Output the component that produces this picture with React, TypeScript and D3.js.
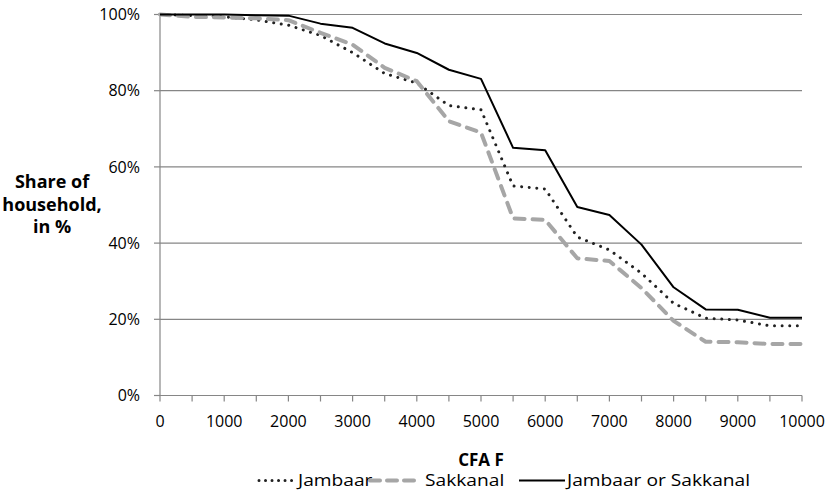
import React, { useEffect, useRef } from "react";
import * as d3 from "d3";

const xValues = [0, 500, 1000, 1500, 2000, 2500, 3000, 3500, 4000, 4500, 5000, 5500, 6000, 6500, 7000, 7500, 8000, 8500, 9000, 9500, 10000];
const jambaar = [100, 99.7, 99.4, 98.6, 97.2, 94.5, 90.0, 84.5, 82.0, 76.1, 75.0, 55.0, 54.2, 41.6, 38.2, 32.1, 24.2, 20.3, 19.8, 18.3, 18.3];
const sakkanal = [100, 99.4, 99.2, 99.0, 98.5, 95.2, 92.1, 86.0, 82.5, 72.0, 69.0, 46.5, 46.1, 36.0, 35.3, 28.2, 19.6, 14.1, 14.0, 13.5, 13.5];
const either = [100, 100, 100, 99.8, 99.7, 97.6, 96.5, 92.4, 89.9, 85.5, 83.1, 65.0, 64.4, 49.5, 47.4, 39.6, 28.4, 22.6, 22.5, 20.4, 20.4];
const xTicks = [0, 1000, 2000, 3000, 4000, 5000, 6000, 7000, 8000, 9000, 10000];
const xMinorTicks = [0, 500, 1000, 1500, 2000, 2500, 3000, 3500, 4000, 4500, 5000, 5500, 6000, 6500, 7000, 7500, 8000, 8500, 9000, 9500, 10000];
const yTicks = [0, 20, 40, 60, 80, 100];
const seriesNames = ["Jambaar", "Sakkanal", "Jambaar or Sakkanal"];

const W = 831;
const H = 492;
const FONT = "'Open Sans', 'Noto Sans', sans-serif";

export default function App() {
  const ref = useRef<SVGSVGElement | null>(null);

  useEffect(() => {
    const svg = d3.select(ref.current);
    svg.selectAll("*").remove();

    const x = d3.scaleLinear().domain([0, 10000]).range([160, 802]);
    const y = d3.scaleLinear().domain([0, 100]).range([395.5, 14.5]);
    const axisColor = "#868686";

    // gridlines
    svg.append("g").selectAll("line").data(yTicks.filter(v => v > 0)).join("line")
      .attr("x1", x(0)).attr("x2", x(10000))
      .attr("y1", d => y(d)).attr("y2", d => y(d))
      .attr("stroke", axisColor).attr("stroke-width", 1.2);

    // y axis
    svg.append("line").attr("x1", x(0)).attr("x2", x(0)).attr("y1", y(100)).attr("y2", y(0))
      .attr("stroke", axisColor).attr("stroke-width", 1.2);
    svg.append("g").selectAll("line").data(yTicks).join("line")
      .attr("x1", x(0) - 6).attr("x2", x(0))
      .attr("y1", d => y(d)).attr("y2", d => y(d))
      .attr("stroke", axisColor).attr("stroke-width", 1.2);
    svg.append("g").selectAll("text").data(yTicks).join("text")
      .attr("x", 140).attr("y", d => y(d)).attr("dy", "0.36em")
      .attr("text-anchor", "end").attr("font-family", FONT).attr("font-size", 16).attr("fill", "#000")
      .text(d => `${d}%`);

    // x axis
    svg.append("line").attr("x1", x(0)).attr("x2", x(10000)).attr("y1", y(0)).attr("y2", y(0))
      .attr("stroke", axisColor).attr("stroke-width", 1.2);
    svg.append("g").selectAll("line").data(xMinorTicks).join("line")
      .attr("x1", d => x(d)).attr("x2", d => x(d))
      .attr("y1", y(0)).attr("y2", y(0) + 6)
      .attr("stroke", axisColor).attr("stroke-width", 1.2);
    svg.append("g").selectAll("text").data(xTicks).join("text")
      .attr("x", d => x(d)).attr("y", 427)
      .attr("text-anchor", "middle").attr("font-family", FONT).attr("font-size", 16).attr("fill", "#000")
      .text(d => `${d}`);

    // titles
    svg.append("text").attr("x", 481).attr("y", 466).attr("text-anchor", "middle")
      .attr("font-family", FONT).attr("font-size", 17).attr("font-weight", "bold").text("CFA F");
    const yl = svg.append("text").attr("text-anchor", "middle")
      .attr("font-family", FONT).attr("font-size", 18).attr("font-weight", "bold");
    ["Share of", "household,", "in %"].forEach((t, i) => {
      yl.append("tspan").attr("x", 52).attr("y", 188 + i * 22.5).text(t);
    });

    const line = d3.line<number>().x((_, i) => x(xValues[i])).y(d => y(d));

    const styles = [
      { data: jambaar, stroke: "#222", width: 3, dash: "0.01 7.6", cap: "round" },
      { data: sakkanal, stroke: "#a6a6a6", width: 4, dash: "10 8", cap: "round" },
      { data: either, stroke: "#000", width: 2, dash: null, cap: "butt" },
    ];

    styles.forEach(s => {
      const p = svg.append("path").datum(s.data).attr("d", line)
        .attr("fill", "none").attr("stroke", s.stroke).attr("stroke-width", s.width)
        .attr("stroke-linecap", s.cap).attr("stroke-linejoin", "round");
      if (s.dash) p.attr("stroke-dasharray", s.dash);
    });

    // legend
    const legendY = 480.5;
    const items = [
      { x1: 259, x2: 295, tx: 298 },
      { x1: 370, x2: 416, tx: 425 },
      { x1: 519, x2: 565, tx: 567 },
    ];
    items.forEach((it, i) => {
      const s = styles[i];
      const l = svg.append("line").attr("x1", it.x1).attr("x2", it.x2).attr("y1", legendY).attr("y2", legendY)
        .attr("stroke", s.stroke).attr("stroke-width", s.width).attr("stroke-linecap", s.cap);
      if (s.dash) l.attr("stroke-dasharray", i === 0 ? "0.01 6.5" : "10 7");
      svg.append("text").attr("transform", `translate(${it.tx},${legendY}) scale(1.2,1)`)
        .attr("dy", "0.35em")
        .attr("font-family", FONT).attr("font-size", 16).attr("fill", "#000").text(seriesNames[i]);
    });
  }, []);

  return (
    <svg ref={ref} width={W} height={H} style={{ position: "absolute", left: 0, top: 0, background: "#fff" }} />
  );
}
